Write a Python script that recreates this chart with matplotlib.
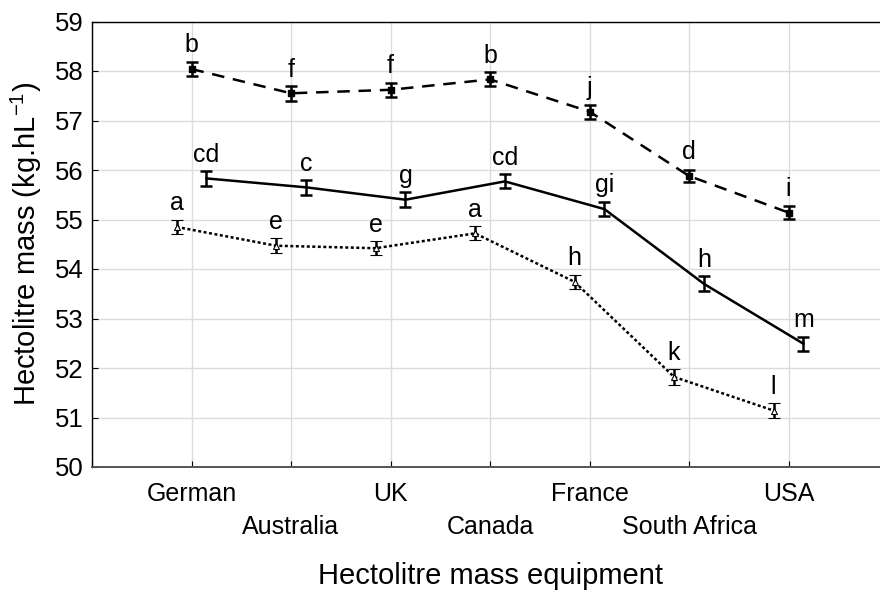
import matplotlib
matplotlib.use("Agg")
import matplotlib.pyplot as plt
import numpy as np

plt.rcParams['font.family'] = ['Liberation Sans', 'DejaVu Sans']
plt.rcParams['mathtext.fontset'] = 'custom'
plt.rcParams['mathtext.rm'] = 'Liberation Sans'
plt.rcParams['mathtext.it'] = 'Liberation Sans:italic'

# Equipment (x categories)
equipment = ["German", "Australia", "UK", "Canada", "France", "South Africa", "USA"]

# Mean hectolitre mass per series (kg/hL)
top_means = [58.04, 57.55, 57.62, 57.83, 57.18, 55.88, 55.14]
mid_means = [55.83, 55.65, 55.40, 55.77, 55.21, 53.70, 52.49]
low_means = [54.85, 54.47, 54.42, 54.72, 53.74, 51.82, 51.14]

# Standard errors
top_err = [0.15, 0.15, 0.14, 0.14, 0.14, 0.13, 0.13]
mid_err = [0.15, 0.15, 0.15, 0.14, 0.14, 0.15, 0.14]
low_err = [0.15, 0.15, 0.14, 0.14, 0.14, 0.16, 0.15]

# Significance letters
top_letters = ["b", "f", "f", "b", "j", "d", "i"]
mid_letters = ["cd", "c", "g", "cd", "gi", "h", "m"]
low_letters = ["a", "e", "e", "a", "h", "k", "l"]

fig = plt.figure(figsize=(8.8, 5.93), dpi=100)
ax = fig.add_axes([92 / 880, 1 - 467 / 593, 796 / 880, (467 - 21.5) / 593])

x = np.arange(1, len(equipment) + 1)

series = [
    (x + 0.0, top_means, top_err, top_letters,
     dict(ls=(0, (5, 3.5)), lw=1.8, marker='s', ms=4.5, mfc='black')),
    (x + 0.15, mid_means, mid_err, mid_letters,
     dict(ls='-', lw=1.8, marker=None)),
    (x - 0.15, low_means, low_err, low_letters,
     dict(ls=(0, (1.2, 1.0)), lw=1.8, marker='^', ms=4, mfc='white', mew=0.8)),
]

for xs, means, errs, letters, style in series:
    ax.errorbar(xs, means, yerr=errs, color='black', ecolor='black',
                elinewidth=1.8, capsize=4, capthick=1.8, zorder=3, **style)
    for xi, yi, ei, lab in zip(xs, means, errs, letters):
        ax.annotate(lab, (xi, yi), xytext=(0, 12), textcoords='offset points',
                    ha='center', va='baseline', fontsize=18)

ax.set_xlim(0, 8)
ax.set_ylim(50, 59)
ax.set_yticks(np.arange(50, 60, 1))
ax.set_xticks(np.arange(0, 9, 1), minor=False)
labels = [""] + [lab if i % 2 == 0 else "\n" + lab for i, lab in enumerate(equipment)] + [""]
ax.set_xticklabels(labels, fontsize=18, linespacing=1.45)
ax.tick_params(axis='y', labelsize=18.5, pad=6)
ax.tick_params(axis='x', pad=11)
ax.tick_params(direction='in', length=4, width=0.8)

ax.grid(True, color='#dcdcdc', lw=1.0)
ax.set_axisbelow(True)
for s in ['top', 'left']:
    ax.spines[s].set_color('black')
    ax.spines[s].set_linewidth(1.0)
ax.spines['bottom'].set_color('#555555')
ax.spines['bottom'].set_linewidth(1.4)

ax.set_xlabel("Hectolitre mass equipment", fontsize=21, labelpad=17)
ax.set_ylabel(r"Hectolitre mass (kg.hL$^{\mathregular{-1}}$)", fontsize=21, labelpad=8)

fig.savefig("out.png", dpi=100)
